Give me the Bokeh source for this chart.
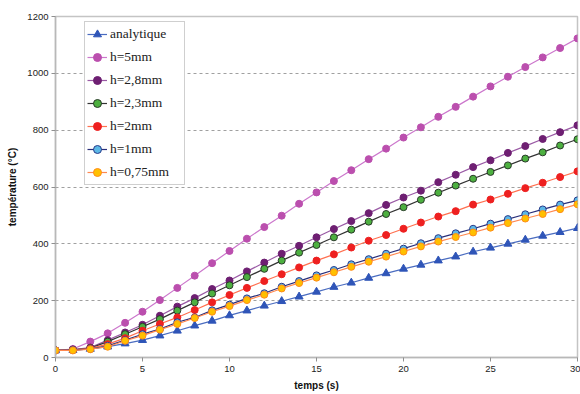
from bokeh.plotting import figure
from bokeh.models import FixedTicker, Range1d, Legend, LegendItem
from bokeh.embed import file_html
from bokeh.resources import INLINE

# ---- data ----
temps = list(range(31))
analytique = [25, 26, 30, 38, 49, 61, 77, 94, 112, 129, 148, 165, 182, 198, 214, 231,
              248, 263, 280, 296, 312, 326, 341, 355, 372, 386, 400, 414, 428, 441, 455]
h_5 = [25, 30, 56, 85, 122, 161, 202, 245, 288, 332, 375, 418, 459, 499, 541, 581,
       621, 659, 698, 735, 774, 810, 847, 882, 918, 954, 988, 1022, 1056, 1089, 1123]
h_2_8 = [25, 28, 35, 61, 88, 115, 147, 179, 209, 241, 271, 303, 334, 365, 393, 423,
         452, 480, 508, 537, 563, 587, 617, 643, 670, 694, 720, 744, 769, 793, 817]
h_2_3 = [25, 27, 33, 56, 82, 108, 135, 165, 194, 225, 254, 283, 312, 341, 369, 396,
         423, 450, 478, 505, 529, 555, 580, 605, 629, 653, 676, 700, 722, 746, 768]
h_2 = [25, 26, 32, 47, 68, 94, 118, 141, 167, 194, 220, 245, 269, 293, 317, 341,
       363, 387, 411, 431, 453, 475, 496, 515, 538, 556, 576, 596, 615, 635, 655]
h_1 = [25, 26, 30, 41, 61, 82, 100, 124, 141, 166, 186, 208, 226, 249, 269, 289,
       308, 328, 346, 365, 383, 402, 420, 437, 453, 471, 487, 504, 521, 538, 553]
h_075 = [25, 25, 29, 38, 59, 77, 98, 118, 139, 161, 181, 202, 221, 243, 262, 281,
         300, 319, 337, 355, 373, 391, 408, 424, 440, 457, 473, 489, 505, 522, 539]

labels = ["analytique", "h=5mm", "h=2,8mm", "h=2,3mm", "h=2mm", "h=1mm", "h=0,75mm"]
x_ticks = [0, 5, 10, 15, 20, 25, 30]
y_ticks = [0, 200, 400, 600, 800, 1000, 1200]

series = [analytique, h_5, h_2_8, h_2_3, h_2, h_1, h_075]
# (line color, marker, fill, outline)
styles = [
    ("#4a6cc0", "triangle", "#2f55b8", "#2f55b8"),
    ("#cc77cc", "circle", "#bb4fae", "#bb4fae"),
    ("#9a5aa5", "circle", "#6e1f72", "#6e1f72"),
    ("#333333", "circle", "#4db040", "#2a3a2a"),
    ("#ff7050", "circle", "#ee2020", "#ee2020"),
    ("#2a2f7a", "circle", "#5cb8e6", "#2a3a8a"),
    ("#ff8850", "circle", "#ffc000", "#ff8c1a"),
]

p = figure(width=580, height=394, output_backend="svg", toolbar_location=None,
           x_range=Range1d(0, 30), y_range=Range1d(0, 1200),
           min_border_left=55, min_border_right=3, min_border_top=16, min_border_bottom=37)
p.background_fill_color = "white"
p.border_fill_color = "white"
p.outline_line_color = "#c4c4c4"
p.outline_line_width = 1.5

p.xgrid.visible = False
p.ygrid.ticker = FixedTicker(ticks=y_ticks[1:-1])
p.ygrid.grid_line_color = "#a0a0a0"
p.ygrid.grid_line_dash = "3 3"
p.ygrid.grid_line_width = 1

p.xaxis.ticker = FixedTicker(ticks=x_ticks)
p.yaxis.ticker = FixedTicker(ticks=y_ticks)
for ax in (p.xaxis, p.yaxis):
    ax.axis_line_color = "#b8b8b8"
    ax.axis_line_width = 1.5
    ax.major_tick_line_color = "#909090"
    ax.major_tick_in = 0
    ax.major_tick_out = 4
    ax.minor_tick_in = 0
    ax.minor_tick_out = 0
    ax.major_label_text_font = "Liberation Sans"
    ax.major_label_text_font_size = "9.5px"
    ax.major_label_text_color = "#222222"
    ax.axis_label_text_font = "Liberation Sans"
    ax.axis_label_text_font_size = "10px"
    ax.axis_label_text_font_style = "bold"
    ax.axis_label_text_color = "#111111"

p.xaxis.axis_label = "temps (s)"
p.yaxis.axis_label = "température (°C)"
p.xaxis.major_label_standoff = 4
p.xaxis.axis_label_standoff = 5
p.yaxis.major_label_standoff = 3
p.yaxis.axis_label_standoff = 6

items = []
for lab, ys, (lc, mk, fc, oc) in zip(labels, series, styles):
    r1 = p.line(temps, ys, line_color=lc, line_width=1.2)
    r2 = p.scatter(temps, ys, marker=mk, size=7 if mk == "circle" else 8,
                   fill_color=fc, line_color=oc, line_width=1)
    items.append(LegendItem(label=lab, renderers=[r1, r2]))

legend = Legend(items=items, location=(29, 172), margin=0, padding=2, spacing=3,
                glyph_width=20, glyph_height=20, label_height=20, label_width=72,
                label_standoff=3, label_text_font="Liberation Serif",
                label_text_font_size="13.5px", label_text_color="#222222",
                border_line_color="#a0a0a0", border_line_width=1,
                background_fill_color="white", background_fill_alpha=1)
p.add_layout(legend)

open("out.html", "w").write(file_html(p, INLINE))
